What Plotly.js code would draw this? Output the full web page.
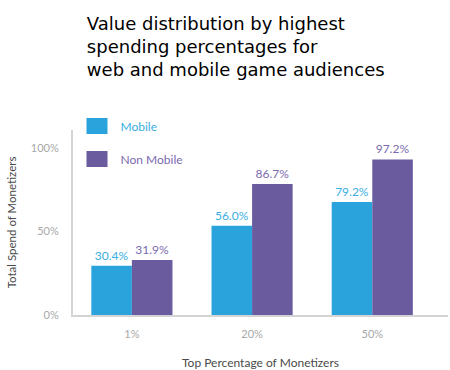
<!DOCTYPE html>
<html>
<head>
<meta charset="utf-8">
<script src="https://cdn.plot.ly/plotly-3.0.1.min.js"></script>
<style>html,body{margin:0;padding:0;background:#fff;}#chart{width:450px;height:370px;}</style>
</head>
<body>
<div id="chart"></div>
<script>
// Categories (top percentage of monetizers)
var categories = ['1%', '20%', '50%'];
// Series names
var seriesNames = ['Mobile', 'Non Mobile'];
// Bar heights as drawn in the picture (percent of total spend)
var mobileValues = [29.5, 53.5, 67.7];
var nonMobileValues = [32.9, 78.4, 93.2];
// Printed value labels
var mobileLabels = ['30.4%', '56.0%', '79.2%'];
var nonMobileLabels = ['31.9%', '86.7%', '97.2%'];
// Y tick labels
var yTickVals = [0, 50, 100];
var yTickText = ['0%', '50%', '100%'];

var fontFam = 'Lato, "Open Sans", sans-serif';
var mobileColor = '#2aa3dc';
var nonMobileColor = '#6a5b9f';

var traces = [
  {
    type: 'bar', name: seriesNames[0], x: categories, y: mobileValues,
    text: mobileLabels, textposition: 'outside', cliponaxis: false,
    textfont: {family: fontFam, size: 12, color: '#3aaee3'},
    marker: {color: mobileColor}, legendgroup: 'a', hoverinfo: 'x+y'
  },
  {
    type: 'bar', name: seriesNames[1], x: categories, y: nonMobileValues,
    text: nonMobileLabels, textposition: 'outside', cliponaxis: false,
    textfont: {family: fontFam, size: 12, color: '#7a6bb0'},
    marker: {color: nonMobileColor}, legendgroup: 'b', hoverinfo: 'x+y'
  }
];

var layout = {
  width: 450, height: 370,
  margin: {l: 73, r: 2, t: 130, b: 55},
  paper_bgcolor: '#ffffff', plot_bgcolor: '#ffffff',
  barmode: 'group', bargap: 0.325, bargroupgap: 0,
  title: {
    text: 'Value distribution by highest<br>spending percentages for<br>web and mobile game audiences',
    font: {family: '"DejaVu Sans", Verdana, sans-serif', size: 18, color: '#000000'},
    x: 0.193, xref: 'container', xanchor: 'left',
    y: 0.92, yref: 'container', yanchor: 'top', align: 'left'
  },
  xaxis: {
    type: 'category', range: [-0.49, 2.63],
    showline: true, linecolor: '#d4d4d4', linewidth: 2,
    showgrid: false, zeroline: false, ticks: '',
    ticklabelstandoff: 8,
    tickfont: {family: fontFam, size: 11, color: '#a8a8a8'},
    title: {text: 'Top Percentage of Monetizers', standoff: 20,
            font: {family: fontFam, size: 12, color: '#4a4a4a'}}
  },
  yaxis: {
    range: [0, 110.8],
    showline: true, linecolor: '#d4d4d4', linewidth: 2,
    showgrid: false, zeroline: false, ticks: '',
    tickvals: yTickVals, ticktext: yTickText,
    ticklabelstandoff: 10,
    tickfont: {family: fontFam, size: 11, color: '#a8a8a8'},
    title: {text: 'Total Spend of Monetizers', standoff: 12,
            font: {family: fontFam, size: 11.5, color: '#4a4a4a'}}
  },
  showlegend: true,
  legend: {
    x: 0.02, xanchor: 'left', y: 1.1, yanchor: 'top',
    bgcolor: 'rgba(0,0,0,0)', traceorder: 'grouped', tracegroupgap: 14,
    font: {family: fontFam, size: 12, color: '#555'}
  }
};

Plotly.newPlot('chart', traces, layout, {displayModeBar: false, staticPlot: true}).then(function(){
  // colour legend texts to match their series
  var items = document.querySelectorAll('.legendtext');
  var cols = ['#3aaee3', '#7a6bb0'];
  items.forEach(function(el, i){ el.style.fill = cols[i % 2]; });
  // widen legend swatches to the reference's larger squares
  document.querySelectorAll('.legendpoints path').forEach(function(p){
    p.setAttribute('d', 'M7,8H-14V-8H7Z');
  });
});
</script>
</body>
</html>
